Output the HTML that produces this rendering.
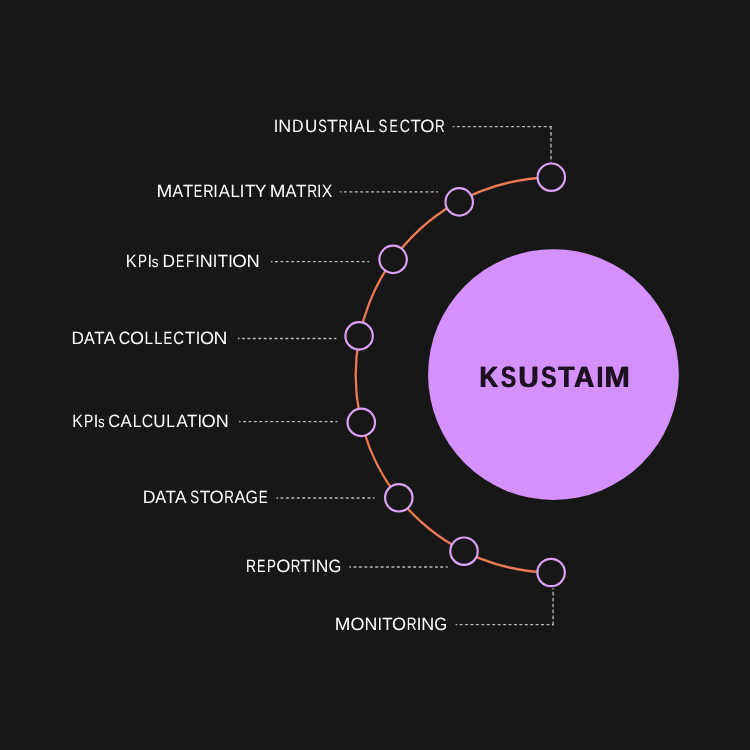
<!DOCTYPE html>
<html><head><meta charset="utf-8"><title>KSUSTAIM</title>
<style>
html,body{margin:0;padding:0;background:#171717;}
body{width:750px;height:750px;overflow:hidden;}
svg{display:block;}
text{font-family:"Liberation Sans",sans-serif;text-rendering:geometricPrecision;}
.lb{font-size:17.8px;fill:#ffffff;}
.dl{fill:none;stroke:#bcbcbc;stroke-width:1.3;stroke-dasharray:2.95 2.48;stroke-dashoffset:1.4;}
.dv{fill:none;stroke:#bcbcbc;stroke-width:1.3;stroke-dasharray:3.7 2.25;}
</style></head><body>
<svg width="750" height="750" viewBox="0 0 750 750">
<rect width="750" height="750" fill="#171717"/>
<path d="M 553.1 177.5 A 197.5 197.5 0 0 0 553.1 572.5" fill="none" stroke="#ee7a53" stroke-width="2.3"/>
<circle cx="553.45" cy="374.6" r="125.4" fill="#d591fb"/>
<g style="filter:brightness(1)" font-size="29.4" font-weight="700" fill="#1d1020">
<text id="ks" y="386.9"><tspan x="479.07" textLength="18.67" lengthAdjust="spacingAndGlyphs">K</tspan><tspan x="500.44" textLength="15.25" lengthAdjust="spacingAndGlyphs">S</tspan><tspan x="518.03" textLength="20.06" lengthAdjust="spacingAndGlyphs">U</tspan><tspan x="540.64" textLength="15.36" lengthAdjust="spacingAndGlyphs">S</tspan><tspan x="557.70" textLength="16.49" lengthAdjust="spacingAndGlyphs">T</tspan><tspan x="573.60" textLength="20.34" lengthAdjust="spacingAndGlyphs">A</tspan><tspan x="596.27" textLength="6.37" lengthAdjust="spacingAndGlyphs">I</tspan><tspan x="603.95" textLength="25.49" lengthAdjust="spacingAndGlyphs">M</tspan></text>
<use href="#ks" x="0.9"/>
</g>
<path class="dl" d="M 452.8 126.6 H 551.6"/>
<path class="dl" d="M 339.9 191.8 H 438.0"/>
<path class="dl" d="M 270.9 261.6 H 369.2"/>
<path class="dl" d="M 237.9 338.5 H 336.4"/>
<path class="dl" d="M 239.1 421.7 H 337.4"/>
<path class="dl" d="M 276.5 498.0 H 374.4"/>
<path class="dl" d="M 349.4 567.0 H 447.6"/>
<path class="dl" d="M 455.6 624.6 H 553.7"/>
<path class="dv" d="M 551.0 126.0 V 162.5"/>
<path class="dv" d="M 553.1 625.2 V 588.0"/>
<circle cx="551.3" cy="177.2" r="13.7" fill="#171717" stroke="#dba1f5" stroke-width="2.2"/>
<circle cx="459.2" cy="201.9" r="13.7" fill="#171717" stroke="#dba1f5" stroke-width="2.2"/>
<circle cx="393.1" cy="259.4" r="13.7" fill="#171717" stroke="#dba1f5" stroke-width="2.2"/>
<circle cx="359.1" cy="335.9" r="13.7" fill="#171717" stroke="#dba1f5" stroke-width="2.2"/>
<circle cx="361.3" cy="422.4" r="13.7" fill="#171717" stroke="#dba1f5" stroke-width="2.2"/>
<circle cx="398.8" cy="497.8" r="13.7" fill="#171717" stroke="#dba1f5" stroke-width="2.2"/>
<circle cx="464.0" cy="551.2" r="13.7" fill="#171717" stroke="#dba1f5" stroke-width="2.2"/>
<circle cx="551.1" cy="572.5" r="13.7" fill="#171717" stroke="#dba1f5" stroke-width="2.2"/>
<g style="filter:brightness(1)">
<text class="lb" y="132.1"><tspan x="273.83" textLength="4.55" lengthAdjust="spacingAndGlyphs">I</tspan><tspan x="278.35" textLength="12.99" lengthAdjust="spacingAndGlyphs">N</tspan><tspan x="292.12" textLength="11.52" lengthAdjust="spacingAndGlyphs">D</tspan><tspan x="305.01" textLength="12.27" lengthAdjust="spacingAndGlyphs">U</tspan><tspan x="318.25" textLength="8.52" lengthAdjust="spacingAndGlyphs">S</tspan><tspan x="327.02" textLength="10.97" lengthAdjust="spacingAndGlyphs">T</tspan><tspan x="338.53" textLength="9.67" lengthAdjust="spacingAndGlyphs">R</tspan><tspan x="348.58" textLength="4.55" lengthAdjust="spacingAndGlyphs">I</tspan><tspan x="354.09" textLength="10.81" lengthAdjust="spacingAndGlyphs">A</tspan><tspan x="365.63" textLength="8.77" lengthAdjust="spacingAndGlyphs">L</tspan> <tspan x="378.62" textLength="8.86" lengthAdjust="spacingAndGlyphs">S</tspan><tspan x="389.40" textLength="8.31" lengthAdjust="spacingAndGlyphs">E</tspan><tspan x="399.71" textLength="10.21" lengthAdjust="spacingAndGlyphs">C</tspan><tspan x="410.54" textLength="10.42" lengthAdjust="spacingAndGlyphs">T</tspan><tspan x="420.26" textLength="14.19" lengthAdjust="spacingAndGlyphs">O</tspan><tspan x="435.01" textLength="9.79" lengthAdjust="spacingAndGlyphs">R</tspan></text>
<text class="lb" y="197.1"><tspan x="156.47" textLength="15.75" lengthAdjust="spacingAndGlyphs">M</tspan><tspan x="172.59" textLength="10.61" lengthAdjust="spacingAndGlyphs">A</tspan><tspan x="183.05" textLength="10.21" lengthAdjust="spacingAndGlyphs">T</tspan><tspan x="193.79" textLength="8.43" lengthAdjust="spacingAndGlyphs">E</tspan><tspan x="203.14" textLength="10.40" lengthAdjust="spacingAndGlyphs">R</tspan><tspan x="213.23" textLength="4.55" lengthAdjust="spacingAndGlyphs">I</tspan><tspan x="218.79" textLength="11.12" lengthAdjust="spacingAndGlyphs">A</tspan><tspan x="230.46" textLength="9.27" lengthAdjust="spacingAndGlyphs">L</tspan><tspan x="239.73" textLength="4.55" lengthAdjust="spacingAndGlyphs">I</tspan><tspan x="245.04" textLength="10.53" lengthAdjust="spacingAndGlyphs">T</tspan><tspan x="255.06" textLength="11.08" lengthAdjust="spacingAndGlyphs">Y</tspan> <tspan x="269.67" textLength="15.75" lengthAdjust="spacingAndGlyphs">M</tspan><tspan x="285.59" textLength="11.01" lengthAdjust="spacingAndGlyphs">A</tspan><tspan x="296.04" textLength="10.53" lengthAdjust="spacingAndGlyphs">T</tspan><tspan x="307.30" textLength="9.91" lengthAdjust="spacingAndGlyphs">R</tspan><tspan x="316.98" textLength="4.55" lengthAdjust="spacingAndGlyphs">I</tspan><tspan x="321.67" textLength="10.54" lengthAdjust="spacingAndGlyphs">X</tspan></text>
<text class="lb" y="267.1"><tspan x="125.79" textLength="10.87" lengthAdjust="spacingAndGlyphs">K</tspan><tspan x="137.92" textLength="8.96" lengthAdjust="spacingAndGlyphs">P</tspan><tspan x="147.48" textLength="4.55" lengthAdjust="spacingAndGlyphs">I</tspan><tspan x="151.85" font-size="15.4" textLength="6.71" lengthAdjust="spacingAndGlyphs">s</tspan> <tspan x="162.51" textLength="12.50" lengthAdjust="spacingAndGlyphs">D</tspan><tspan x="176.10" textLength="8.31" lengthAdjust="spacingAndGlyphs">E</tspan><tspan x="186.04" textLength="8.06" lengthAdjust="spacingAndGlyphs">F</tspan><tspan x="195.13" textLength="4.55" lengthAdjust="spacingAndGlyphs">I</tspan><tspan x="199.65" textLength="12.99" lengthAdjust="spacingAndGlyphs">N</tspan><tspan x="212.78" textLength="4.55" lengthAdjust="spacingAndGlyphs">I</tspan><tspan x="217.75" textLength="10.21" lengthAdjust="spacingAndGlyphs">T</tspan><tspan x="228.13" textLength="4.55" lengthAdjust="spacingAndGlyphs">I</tspan><tspan x="232.24" textLength="14.53" lengthAdjust="spacingAndGlyphs">O</tspan><tspan x="246.42" textLength="13.25" lengthAdjust="spacingAndGlyphs">N</tspan></text>
<text class="lb" y="343.9"><tspan x="71.51" textLength="12.50" lengthAdjust="spacingAndGlyphs">D</tspan><tspan x="84.09" textLength="10.81" lengthAdjust="spacingAndGlyphs">A</tspan><tspan x="94.25" textLength="10.32" lengthAdjust="spacingAndGlyphs">T</tspan><tspan x="103.79" textLength="10.71" lengthAdjust="spacingAndGlyphs">A</tspan> <tspan x="118.72" textLength="11.46" lengthAdjust="spacingAndGlyphs">C</tspan><tspan x="130.08" textLength="13.96" lengthAdjust="spacingAndGlyphs">O</tspan><tspan x="144.57" textLength="8.51" lengthAdjust="spacingAndGlyphs">L</tspan><tspan x="154.21" textLength="8.26" lengthAdjust="spacingAndGlyphs">L</tspan><tspan x="163.46" textLength="8.68" lengthAdjust="spacingAndGlyphs">E</tspan><tspan x="173.37" textLength="10.78" lengthAdjust="spacingAndGlyphs">C</tspan><tspan x="184.74" textLength="10.53" lengthAdjust="spacingAndGlyphs">T</tspan><tspan x="195.63" textLength="4.55" lengthAdjust="spacingAndGlyphs">I</tspan><tspan x="199.97" textLength="14.07" lengthAdjust="spacingAndGlyphs">O</tspan><tspan x="213.55" textLength="13.90" lengthAdjust="spacingAndGlyphs">N</tspan></text>
<text class="lb" y="427.1"><tspan x="72.22" textLength="10.64" lengthAdjust="spacingAndGlyphs">K</tspan><tspan x="83.98" textLength="9.34" lengthAdjust="spacingAndGlyphs">P</tspan><tspan x="93.63" textLength="4.55" lengthAdjust="spacingAndGlyphs">I</tspan><tspan x="98.27" font-size="15.4" textLength="6.36" lengthAdjust="spacingAndGlyphs">s</tspan> <tspan x="108.29" textLength="11.92" lengthAdjust="spacingAndGlyphs">C</tspan><tspan x="120.39" textLength="11.22" lengthAdjust="spacingAndGlyphs">A</tspan><tspan x="132.75" textLength="8.64" lengthAdjust="spacingAndGlyphs">L</tspan><tspan x="141.83" textLength="11.35" lengthAdjust="spacingAndGlyphs">C</tspan><tspan x="153.21" textLength="12.27" lengthAdjust="spacingAndGlyphs">U</tspan><tspan x="166.33" textLength="8.77" lengthAdjust="spacingAndGlyphs">L</tspan><tspan x="176.39" textLength="11.22" lengthAdjust="spacingAndGlyphs">A</tspan><tspan x="186.95" textLength="10.21" lengthAdjust="spacingAndGlyphs">T</tspan><tspan x="197.38" textLength="4.55" lengthAdjust="spacingAndGlyphs">I</tspan><tspan x="201.56" textLength="14.19" lengthAdjust="spacingAndGlyphs">O</tspan><tspan x="215.65" textLength="12.99" lengthAdjust="spacingAndGlyphs">N</tspan></text>
<text class="lb" y="503.2"><tspan x="142.68" textLength="12.74" lengthAdjust="spacingAndGlyphs">D</tspan><tspan x="155.19" textLength="10.91" lengthAdjust="spacingAndGlyphs">A</tspan><tspan x="165.45" textLength="10.32" lengthAdjust="spacingAndGlyphs">T</tspan><tspan x="174.99" textLength="10.51" lengthAdjust="spacingAndGlyphs">A</tspan> <tspan x="190.32" textLength="8.86" lengthAdjust="spacingAndGlyphs">S</tspan><tspan x="199.74" textLength="10.53" lengthAdjust="spacingAndGlyphs">T</tspan><tspan x="209.56" textLength="14.19" lengthAdjust="spacingAndGlyphs">O</tspan><tspan x="224.33" textLength="9.67" lengthAdjust="spacingAndGlyphs">R</tspan><tspan x="234.59" textLength="11.01" lengthAdjust="spacingAndGlyphs">A</tspan><tspan x="245.62" textLength="12.45" lengthAdjust="spacingAndGlyphs">G</tspan><tspan x="258.83" textLength="8.92" lengthAdjust="spacingAndGlyphs">E</tspan></text>
<text class="lb" y="572.1"><tspan x="245.89" textLength="10.03" lengthAdjust="spacingAndGlyphs">R</tspan><tspan x="256.99" textLength="8.43" lengthAdjust="spacingAndGlyphs">E</tspan><tspan x="266.92" textLength="8.96" lengthAdjust="spacingAndGlyphs">P</tspan><tspan x="276.26" textLength="14.19" lengthAdjust="spacingAndGlyphs">O</tspan><tspan x="290.83" textLength="9.67" lengthAdjust="spacingAndGlyphs">R</tspan><tspan x="300.25" textLength="10.32" lengthAdjust="spacingAndGlyphs">T</tspan><tspan x="311.13" textLength="4.55" lengthAdjust="spacingAndGlyphs">I</tspan><tspan x="315.69" textLength="12.61" lengthAdjust="spacingAndGlyphs">N</tspan><tspan x="328.60" textLength="12.81" lengthAdjust="spacingAndGlyphs">G</tspan></text>
<text class="lb" y="630.0"><tspan x="334.89" textLength="15.63" lengthAdjust="spacingAndGlyphs">M</tspan><tspan x="350.48" textLength="13.96" lengthAdjust="spacingAndGlyphs">O</tspan><tspan x="364.56" textLength="12.86" lengthAdjust="spacingAndGlyphs">N</tspan><tspan x="377.48" textLength="4.55" lengthAdjust="spacingAndGlyphs">I</tspan><tspan x="382.25" textLength="10.32" lengthAdjust="spacingAndGlyphs">T</tspan><tspan x="391.97" textLength="14.07" lengthAdjust="spacingAndGlyphs">O</tspan><tspan x="406.71" textLength="9.79" lengthAdjust="spacingAndGlyphs">R</tspan><tspan x="416.73" textLength="4.55" lengthAdjust="spacingAndGlyphs">I</tspan><tspan x="421.35" textLength="12.99" lengthAdjust="spacingAndGlyphs">N</tspan><tspan x="434.29" textLength="12.93" lengthAdjust="spacingAndGlyphs">G</tspan></text>
</g>
</svg></body></html>
